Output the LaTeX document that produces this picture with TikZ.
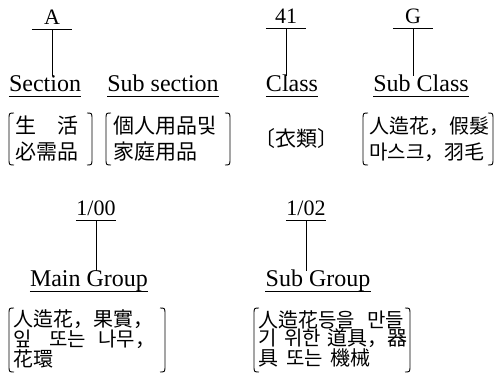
\documentclass[tikz,border=0pt]{standalone}
\usepackage{fontspec}
\setmainfont{Liberation Serif}
\newfontfamily\kr{Noto Sans CJK KR}
\newcommand\mylbr[3]{\draw[brk] (#1+5,#2) .. controls (#1,#2) .. (#1,#2+7) -- (#1,#3-7) .. controls (#1,#3) .. (#1+5,#3);}
\newcommand\myrbr[3]{\draw[brk] (#1-5,#2) .. controls (#1,#2) .. (#1,#2+7) -- (#1,#3-7) .. controls (#1,#3) .. (#1-5,#3);}
\begin{document}
\begin{tikzpicture}[x=1pt,y=-1pt,
  code/.style={font=\fontsize{22}{22}\selectfont, inner sep=0pt, minimum width=40pt, text height=14pt, text depth=5pt},
  lab/.style={font=\fontsize{24}{24}\selectfont, inner sep=0pt, text height=15pt, text depth=5pt},
  cjk/.style={font=\kr\fontsize{21}{26}\selectfont, inner sep=0pt, align=left},
  cjks/.style={font=\kr\fontsize{20}{18.5}\selectfont, inner sep=0pt, align=left},
  uline/.style={line width=0.9pt},
  conn/.style={line width=0.9pt},
  brk/.style={line width=0.9pt}]
\useasboundingbox (0,0) rectangle (501,376);
% codes
\node[code] (cA) at (52,20) {A};
\node[code] (c41) at (286,19) {41};
\node[code] (cG) at (413,19) {G};
\node[code] (c100) at (96,211) {1/00};
\node[code] (c102) at (306,211) {1/02};
\foreach \n in {cA,c41,cG,c100,c102}{\draw[uline] (\n.south west) -- (\n.south east);}
% labels
\node[lab] (lSec) at (45,86) {Section};
\node[lab] (lSub) at (163,86) {Sub section};
\node[lab] (lCls) at (292,86) {Class};
\node[lab] (lSubC) at (421,86) {Sub Class};
\node[lab] (lMain) at (89,281) {Main Group};
\node[lab] (lSubG) at (318,281) {Sub Group};
\foreach \n in {lSec,lSub,lCls,lSubC,lMain,lSubG}{\draw[uline] (\n.south west) -- (\n.south east);}
% connectors
\draw[conn] (cA.south) -- (cA.south |- lSec.north);
\draw[conn] (c41.south) -- (c41.south |- lCls.north);
\draw[conn] (cG.south) -- (cG.south |- lSubC.north);
\draw[conn] (c100.south) -- (c100.south |- lMain.north);
\draw[conn] (c102.south) -- (c102.south |- lSubG.north);
% row 3 texts
\node[cjk, anchor=west] (t1) at (15,139) {生　活\\必需品};
\node[cjk, anchor=west] (t2) at (113,139) {個人用品및\\家庭用品};
\node[cjk] (t3) at (296,139) {〔衣類〕};
\node[cjk, anchor=west, font=\kr\fontsize{20}{26}\selectfont] (t4) at (369,139) {人造花，假髮\\마스크，羽毛};
\mylbr{9}{113}{165}\myrbr{92}{113}{165}
\mylbr{106}{113}{165}\myrbr{230}{113}{165}
\mylbr{363}{113}{165}\myrbr{493}{113}{165}
% row 6 texts
\node[cjks, anchor=west] (t5) at (13,339) {人造花，果實，\\잎\hspace{0.9em}또는\hspace{0.6em}나무，\\花環};
\node[cjks, anchor=west] (t6) at (258,339) {人造花등을\hspace{0.6em}만들\\기\hspace{0.4em}위한\hspace{0.3em}道具，器\\具\hspace{0.4em}또는\hspace{0.4em}機械};
\mylbr{9}{308}{372}\myrbr{165}{308}{372}
\mylbr{254}{308}{372}\myrbr{410}{308}{372}
\end{tikzpicture}
\end{document}
